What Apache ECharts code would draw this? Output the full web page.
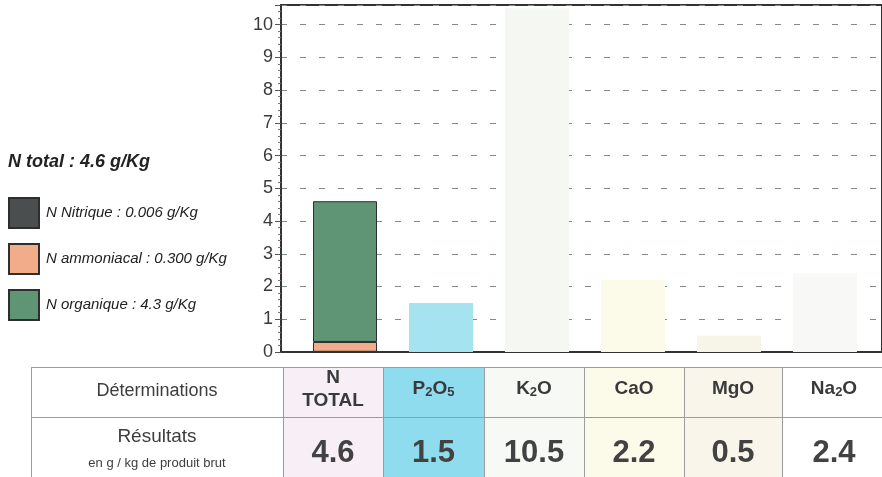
<!DOCTYPE html>
<html>
<head>
<meta charset="utf-8">
<script src="https://cdn.jsdelivr.net/npm/echarts@6/dist/echarts.min.js"></script>
<style>
  html, body { margin: 0; padding: 0; background: #ffffff; }
  #chart_container { width: 882px; height: 477px; }
</style>
</head>
<body>
<div id="chart_container"></div>
<script>
// data
const categories = ['N TOTAL', 'P2O5', 'K2O', 'CaO', 'MgO', 'Na2O'];
const results = [4.6, 1.5, 10.5, 2.2, 0.5, 2.4];
const nForms = ['N Nitrique', 'N ammoniacal', 'N organique'];
const nValues = [0.006, 0.300, 4.3];
const nDecimals = [3, 3, 1];
const yTicks = [0, 1, 2, 3, 4, 5, 6, 7, 8, 9, 10];

// colours
const nColors = ['#4a4e4e', '#f1ad8a', '#5f9474'];
const barColors = [null, '#a6e3f1', '#f5f7f3', '#fcfbea', '#f7f4e8', '#f8f8f6'];
const cellFill = ['#ffffff', '#f7eef6', '#8fdcef', '#f7f9f4', '#fcfbea', '#f9f5ea', '#ffffff'];

const FONT = '"Liberation Sans", Arial, sans-serif';
const Y_MAX = 10.6;

// table layout
const colX = [31, 283, 383, 484, 584, 684, 782, 886];
const rowY = [367, 417, 480];

function subscript(name) {
    // chemical formulas: digits shown smaller
    return name.replace(/(\d)/g, '{s|$1}');
}

function buildTable() {
    let els = [];
    // cell backgrounds
    for (let c = 0; c < colX.length - 1; c++) {
        els.push({
            type: 'rect', silent: true, z: 0,
            shape: { x: colX[c], y: rowY[0], width: colX[c + 1] - colX[c], height: rowY[2] - rowY[0] },
            style: { fill: cellFill[c] }
        });
    }
    // borders
    let lineStyle = { stroke: '#9c9c9c', lineWidth: 1 };
    els.push({ type: 'line', z: 1, shape: { x1: colX[0], y1: rowY[0] + 0.5, x2: 900, y2: rowY[0] + 0.5 }, style: lineStyle });
    els.push({ type: 'line', z: 1, shape: { x1: colX[0], y1: rowY[1] + 0.5, x2: 900, y2: rowY[1] + 0.5 }, style: lineStyle });
    for (let c = 0; c < colX.length - 1; c++) {
        els.push({ type: 'line', z: 1, shape: { x1: colX[c] + 0.5, y1: rowY[0], x2: colX[c] + 0.5, y2: 480 }, style: lineStyle });
    }
    // row headings
    let midFirst = (colX[0] + colX[1]) / 2;
    els.push({
        type: 'text', z: 2, x: midFirst, y: 391,
        style: { text: 'Déterminations', align: 'center', verticalAlign: 'middle', fontFamily: FONT, fontSize: 18, fill: '#3d3d3d' }
    });
    els.push({
        type: 'text', z: 2, x: midFirst, y: 437,
        style: { text: 'Résultats', align: 'center', verticalAlign: 'middle', fontFamily: FONT, fontSize: 19, fill: '#3d3d3d' }
    });
    els.push({
        type: 'text', z: 2, x: midFirst, y: 463,
        style: { text: 'en g / kg de produit brut', align: 'center', verticalAlign: 'middle', fontFamily: FONT, fontSize: 13, fill: '#3d3d3d' }
    });
    // category headers and values
    categories.forEach((name, i) => {
        let mid = (colX[i + 1] + colX[i + 2]) / 2;
        let label = name.indexOf(' ') >= 0 ? name.replace(' ', '\n') : subscript(name);
        els.push({
            type: 'text', z: 2, x: mid, y: 389,
            style: {
                text: label, align: 'center', verticalAlign: 'middle',
                fontFamily: FONT, fontSize: 19, fontWeight: 'bold', fill: '#3a3a3a', lineHeight: 23,
                rich: { s: { fontFamily: FONT, fontSize: 13, fontWeight: 'bold', fill: '#3a3a3a', padding: [7, 0, 0, 0] } }
            }
        });
        els.push({
            type: 'text', z: 2, x: mid, y: 453,
            style: {
                text: results[i].toFixed(1), align: 'center', verticalAlign: 'middle',
                fontFamily: FONT, fontSize: 31, fontWeight: 'bold', fill: '#424242'
            }
        });
    });
    return els;
}

function buildChart() {
    let chart_container = document.getElementById('chart_container');
    let chart = echarts.init(chart_container);

    // N total column: stacked forms of nitrogen
    let nSeries = nForms.map((name, k) => ({
        name: name,
        type: 'bar',
        stack: 'N',
        xAxisIndex: 1,
        yAxisIndex: 1,
        barWidth: 64,
        barGap: '-100%',
        data: categories.map((c, i) => i === 0 ? nValues[k] : '-'),
        itemStyle: { color: nColors[k], borderColor: '#2e2e2e', borderWidth: 1 }
    }));

    let otherData = results.map((v, i) => i === 0 ? '-' : { value: v, itemStyle: { color: barColors[i] } });

    let nTotal = nValues.reduce((a, b) => a + b, 0);

    let option = {
        animation: false,
        backgroundColor: '#ffffff',
        title: {
            text: 'N total : ' + nTotal.toFixed(1) + ' g/Kg',
            left: 3, top: 148,
            textStyle: { fontFamily: FONT, fontSize: 18, fontWeight: 'bold', fontStyle: 'italic', color: '#222' }
        },
        legend: {
            data: nForms,
            orient: 'vertical',
            left: 8, top: 197,
            padding: 0,
            itemWidth: 30, itemHeight: 30, itemGap: 14,
            icon: 'rect',
            selectedMode: false,
            formatter: function (name) {
                let k = nForms.indexOf(name);
                return name + ' : ' + nValues[k].toFixed(nDecimals[k]) + ' g/Kg';
            },
            textStyle: { fontFamily: FONT, fontSize: 15, fontStyle: 'italic', color: '#222', padding: [0, 0, 0, 2] }
        },
        grid: [
            // frame with the y axis and dashed grid lines
            { left: 281, right: -3, top: 5, bottom: 125, show: true, borderColor: '#333', borderWidth: 2 },
            // bars: one 96px band per category
            { left: 297, right: 9, top: 5, bottom: 125 }
        ],
        xAxis: [
            {
                type: 'value', gridIndex: 0, min: 0, max: 1,
                axisLine: { show: true, onZero: false, lineStyle: { color: '#333', width: 2 } },
                axisTick: { show: false }, axisLabel: { show: false }, splitLine: { show: false }
            },
            {
                type: 'category', gridIndex: 1, data: categories,
                axisLine: { show: false }, axisTick: { show: false }, axisLabel: { show: false }, splitLine: { show: false }
            }
        ],
        yAxis: [
            {
                type: 'value', gridIndex: 0,
                min: yTicks[0], max: Y_MAX, interval: 1,
                axisLine: { show: true, onZero: false, lineStyle: { color: '#333', width: 2 } },
                axisTick: { show: true, length: 6, lineStyle: { color: '#555' } },
                minorTick: { show: true, splitNumber: 5, length: 3, lineStyle: { color: '#777' } },
                axisLabel: {
                    showMaxLabel: false, margin: 8,
                    fontFamily: FONT, fontSize: 18, color: '#3a3a3a'
                },
                splitLine: { show: true, lineStyle: { color: '#7e8c92', type: [6, 13], width: 1 } }
            },
            {
                type: 'value', gridIndex: 1, min: yTicks[0], max: Y_MAX,
                axisLine: { show: false }, axisTick: { show: false }, axisLabel: { show: false }, splitLine: { show: false }
            }
        ],
        graphic: buildTable(),
        series: [
            ...nSeries,
            {
                name: 'Autres',
                type: 'bar',
                xAxisIndex: 1,
                yAxisIndex: 1,
                barWidth: 64,
                barGap: '-100%',
                data: otherData
            }
        ]
    };
    chart.setOption(option);
}

buildChart();
</script>
</body>
</html>
